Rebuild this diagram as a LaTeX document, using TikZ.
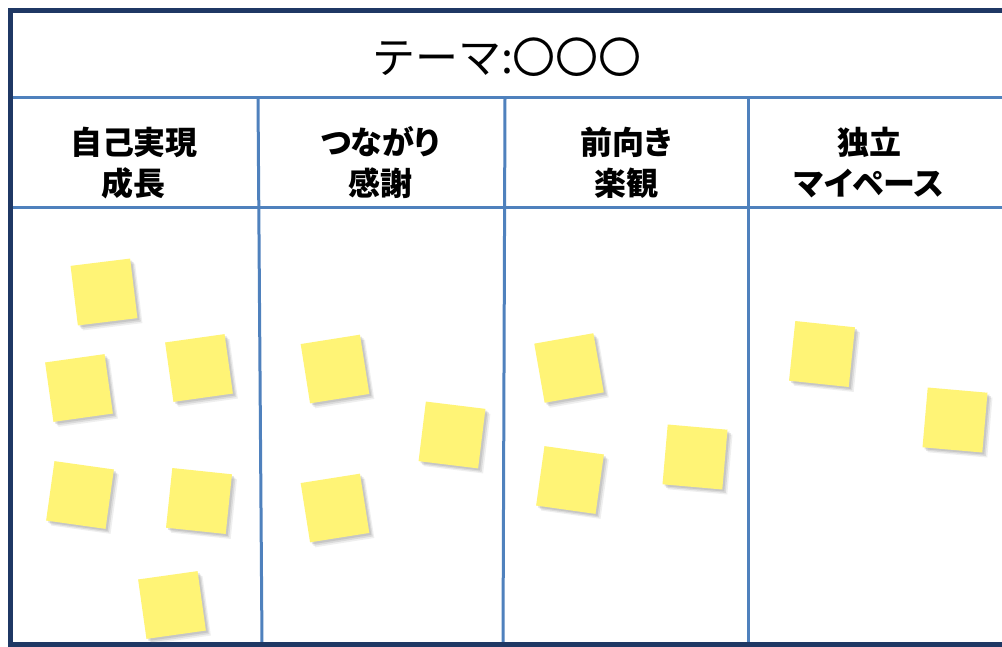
\documentclass[tikz,border=0pt]{standalone}
\usepackage{fontspec}
\newfontfamily\jp{Noto Sans CJK JP}
\newfontfamily\jph[RawFeature=+palt]{Noto Sans CJK JP}
\usetikzlibrary{shadows}
\definecolor{navy}{RGB}{31,56,100}
\definecolor{gridblue}{RGB}{79,129,189}
\definecolor{stickyyellow}{RGB}{255,244,118}
\tikzset{
  frame/.style={draw=navy, line width=4.5pt},
  grid/.style={draw=gridblue, line width=3pt},
  titletext/.style={font=\jp\fontsize{43}{50}\selectfont, inner sep=0pt},
  headtext/.style={font=\jph\bfseries\fontsize{32}{41}\selectfont, align=center, inner sep=0pt},
  sticky/.style={fill=stickyyellow, minimum size=60pt, inner sep=0pt,
    drop shadow={opacity=0.12, shadow xshift=5pt, shadow yshift=-5pt},
    drop shadow={opacity=0.18, shadow xshift=3.5pt, shadow yshift=-3.5pt},
    drop shadow={opacity=0.22, shadow xshift=2pt, shadow yshift=-2pt}},
}
\begin{document}
\begin{tikzpicture}[x=1pt, y=-1pt]
\useasboundingbox (0,0) rectangle (1002,647);
\fill[white] (0,0) rectangle (1002,647);
% grid lines
\draw[grid] (10,98) -- (1010,98);
\draw[grid] (10,208) -- (1010,208);
\draw[grid] (258,98) -- (262,645);
\draw[grid] (505,98) -- (503,645);
\draw[grid] (748,98) -- (748,645);
% outer frame
\draw[frame] (1015,10.5) -- (10.5,10.5) -- (10.5,644.5) -- (1015,644.5);
% title and headers
\node[titletext] (title) at (507,57) {テーマ:〇〇〇};
\node[headtext] (h1) at (134,163) {自己実現\\成長};
\node[headtext] (h2) at (380,163) {つながり\\感謝};
\node[headtext] (h3) at (626,163) {前向き\\楽観};
\node[headtext] (h4) at (869,163) {独立\\マイペース};
% sticky notes
\node[sticky, rotate=7] (s1) at (104,292) {};
\node[sticky, rotate=8] (s2) at (79,388) {};
\node[sticky, rotate=8] (s3) at (199,368) {};
\node[sticky, rotate=-8] (s4) at (80,495) {};
\node[sticky, rotate=-6] (s5) at (199,501) {};
\node[sticky, rotate=8] (s6) at (172,605) {};
\node[sticky, rotate=9] (s7) at (335,369) {};
\node[sticky, rotate=-7] (s8) at (452,435) {};
\node[sticky, rotate=9] (s9) at (335,508) {};
\node[sticky, rotate=10] (s10) at (569,368) {};
\node[sticky, rotate=-8] (s11) at (570,480) {};
\node[sticky, rotate=-5] (s12) at (695,457) {};
\node[sticky, rotate=-6] (s13) at (822,354) {};
\node[sticky, rotate=-5] (s14) at (955,420) {};
\end{tikzpicture}
\end{document}
